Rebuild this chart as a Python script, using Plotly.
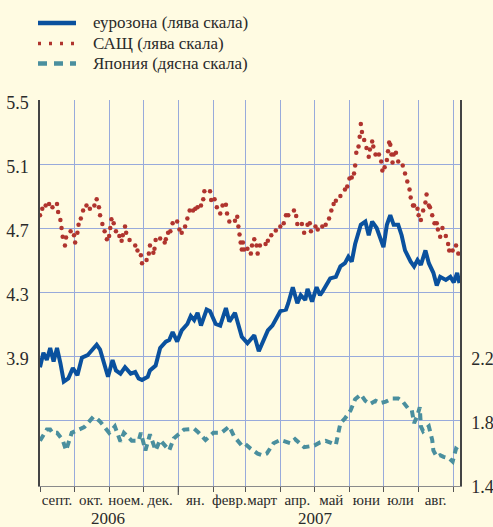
import pandas as pd
import plotly.graph_objects as go

START = pd.Timestamp("2006-09-01")

# ---- data (days after 2006-09-01, value) ----
euro_day = [0,3,6,9,12,15,18,21,25,29,33,37,42,46,50,53,56,60,64,67,71,75,80,84,87,90,95,97,102,106,
            111,114,117,121,125,130,133,136,139,142,147,150,155,159,164,167,172,175,178,183,189,193,197,201,205,209,212,217,219,223,
            227,230,234,236,240,244,247,249,253,256,261,265,269,272,275,278,283,287,290,293,297,300,303,306,309,312,316,319,322,327,
            330,333,336,340,343,347,350,353,358,362,365,368,370]
euro_val = [3.83,3.92,3.875,3.95,3.865,3.95,3.855,3.74,3.76,3.825,3.78,3.89,3.905,3.94,3.97,3.94,3.865,3.77,3.875,3.81,
            3.79,3.83,3.79,3.80,3.76,3.75,3.77,3.81,3.84,3.95,3.99,4.00,4.05,3.99,4.06,4.10,4.15,4.125,4.17,4.09,
            4.19,4.18,4.10,4.09,4.20,4.115,4.17,4.09,4.02,3.98,4.03,3.93,3.99,4.06,4.09,4.135,4.18,4.19,4.23,4.33,
            4.23,4.28,4.25,4.32,4.24,4.33,4.28,4.30,4.355,4.385,4.395,4.46,4.48,4.52,4.49,4.60,4.72,4.74,4.655,4.74,
            4.70,4.645,4.58,4.72,4.78,4.72,4.72,4.655,4.56,4.49,4.46,4.50,4.47,4.56,4.48,4.42,4.34,4.395,4.375,4.395,
            4.36,4.42,4.355]

us_day = [0,2,5,8,11,15,16,18,19,20,22,23,27,30,31,33,34,36,38,41,44,48,50,52,53,55,57,59,61,62,
          63,65,67,70,72,73,75,76,79,84,86,89,90,94,96,97,100,101,102,106,110,111,113,115,117,121,123,125,128,130,
          132,135,137,139,142,144,145,150,151,154,156,159,161,164,165,167,172,174,175,176,177,178,179,180,183,186,187,189,191,192,
          194,199,201,204,208,212,215,217,219,224,226,227,231,233,236,238,239,243,245,249,252,255,257,259,261,265,269,271,273,275,
          277,278,279,281,282,283,284,286,288,290,291,293,294,296,299,301,302,304,306,307,308,309,310,311,312,314,316,320,322,324,
          326,327,329,330,333,334,336,338,340,341,343,344,346,348,350,351,353,355,358,360,361,364,367,369]
us_val = [4.78,4.82,4.84,4.85,4.83,4.85,4.80,4.75,4.70,4.645,4.59,4.64,4.68,4.655,4.61,4.67,4.72,4.76,4.81,4.84,
          4.82,4.84,4.88,4.83,4.78,4.725,4.68,4.63,4.65,4.70,4.755,4.73,4.68,4.65,4.62,4.655,4.71,4.67,4.625,4.59,
          4.56,4.53,4.48,4.50,4.54,4.59,4.545,4.57,4.625,4.635,4.61,4.63,4.67,4.68,4.73,4.74,4.69,4.67,4.71,4.76,
          4.81,4.81,4.82,4.83,4.84,4.88,4.93,4.93,4.875,4.88,4.83,4.79,4.84,4.845,4.79,4.74,4.745,4.77,4.71,4.66,
          4.61,4.565,4.61,4.565,4.57,4.54,4.59,4.63,4.59,4.54,4.59,4.60,4.62,4.655,4.685,4.71,4.73,4.78,4.78,4.81,
          4.775,4.725,4.725,4.67,4.72,4.73,4.68,4.71,4.69,4.71,4.72,4.76,4.81,4.85,4.87,4.90,4.94,4.96,5.01,5.015,
          5.04,5.09,5.17,5.21,5.27,5.35,5.30,5.25,5.20,5.145,5.19,5.24,5.21,5.16,5.16,5.115,5.06,5.08,5.125,5.18,
          5.235,5.22,5.16,5.11,5.16,5.17,5.115,5.09,5.04,4.99,4.94,4.89,4.84,4.84,4.82,4.78,4.75,4.81,4.86,4.91,
          4.84,4.83,4.78,4.73,4.73,4.69,4.645,4.70,4.65,4.60,4.56,4.56,4.59,4.54]

jp_day = [0,6,9,11,15,17,20,23,28,31,39,47,50,53,61,66,71,74,81,87,89,93,97,102,106,114,118,127,136,140,
          146,153,160,167,171,178,181,186,192,196,200,206,212,221,225,233,242,247,252,261,265,269,274,278,283,287,291,296,300,305,
          311,316,320,325,328,330,333,335,336,338,343,346,347,350,353,356,361,364,367,369]
jp_val = [1.67,1.74,1.74,1.72,1.72,1.70,1.675,1.61,1.72,1.73,1.755,1.82,1.81,1.79,1.72,1.76,1.665,1.72,1.67,1.67,
          1.72,1.61,1.71,1.61,1.675,1.61,1.685,1.74,1.745,1.72,1.675,1.72,1.72,1.76,1.70,1.64,1.65,1.62,1.59,1.58,
          1.59,1.655,1.675,1.655,1.68,1.63,1.64,1.66,1.67,1.645,1.78,1.81,1.86,1.93,1.96,1.92,1.90,1.92,1.905,1.915,
          1.935,1.935,1.915,1.87,1.86,1.78,1.83,1.88,1.76,1.73,1.76,1.675,1.61,1.57,1.58,1.57,1.56,1.54,1.62,1.61]

series_names = ["еурозона (лява скала)", "САЩ (лява скала)", "Япония (дясна скала)"]
month_labels = ["септ.", "окт.", "ноем.", "дек.", "ян.", "февр.", "март", "апр.", "май", "юни", "юли", "авг."]
month_mid = ["2006-09-16", "2006-10-16", "2006-11-16", "2006-12-16", "2007-01-16", "2007-02-15",
             "2007-03-16", "2007-04-16", "2007-05-16", "2007-06-16", "2007-07-16", "2007-08-16"]
month_start = ["2006-09-01", "2006-10-01", "2006-11-01", "2006-12-01", "2007-01-01", "2007-02-01", "2007-03-01",
               "2007-04-01", "2007-05-01", "2007-06-01", "2007-07-01", "2007-08-01", "2007-09-01"]
year_labels = ["2006", "2007"]
year_mid = ["2006-10-31", "2007-05-02"]
left_ticks = [3.5, 3.9, 4.3, 4.7, 5.1, 5.5]
left_text = ["", "3.9", "4.3", "4.7", "5.1", "5.5"]
right_ticks = [1.4, 1.8, 2.2]

assert len(euro_day) == len(euro_val)
assert len(us_day) == len(us_val)
assert len(jp_day) == len(jp_val)

def to_dates(days):
    return [START + pd.Timedelta(days=d) for d in days]

BLUE = "#0a519e"
RED = "#b0342e"
TEAL = "#4a8f9e"
BG = "#fffbe2"
GRID = "#98aadb"
FONT = "'Liberation Serif', 'Times New Roman', Times, serif"
TXT = "#2a2a2a"

W, H = 493, 527
L, R, T, B = 40, 33, 100, 41
pw, ph = W - L - R, H - T - B

def px(x):
    return (x - L) / pw

def py(y):
    return (H - B - y) / ph

fig = go.Figure()
fig.add_trace(go.Scatter(x=to_dates(jp_day), y=jp_val, mode="lines", yaxis="y2",
                         line=dict(color=TEAL, width=4, dash="7px,5px"), name=series_names[2],
                         showlegend=False))
fig.add_trace(go.Scatter(x=to_dates(us_day), y=us_val, mode="markers",
                         marker=dict(color=RED, size=4.5, line=dict(width=0)), name=series_names[1],
                         showlegend=False))
fig.add_trace(go.Scatter(x=to_dates(euro_day), y=euro_val, mode="lines",
                         line=dict(color=BLUE, width=4), name=series_names[0], showlegend=False))

shapes = []
# Jan 1 longer tick
shapes.append(dict(type="line", xref="x", yref="paper", x0="2007-01-01", x1="2007-01-01",
                   y0=0, y1=-9 / ph, line=dict(color="#555", width=1.2)))
# manual legend
rows = [23, 43.5, 63.5]
styles = [dict(color=BLUE, width=4.5, dash="solid"),
          dict(color=RED, width=3.5, dash="3px,8px"),
          dict(color=TEAL, width=4.5, dash="9px,7px")]
annotations = []
for name, yy, st in zip(series_names, rows, styles):
    shapes.append(dict(type="line", xref="paper", yref="paper", x0=px(38), x1=px(76),
                       y0=py(yy), y1=py(yy), line=st))
    annotations.append(dict(text=name, xref="paper", yref="paper", x=px(91), y=py(yy),
                            xanchor="left", yanchor="middle", showarrow=False,
                            font=dict(family=FONT, size=17, color=TXT)))
for lab, xm in zip(year_labels, year_mid):
    annotations.append(dict(text=lab, xref="x", yref="paper", x=xm, y=py(518),
                            xanchor="center", yanchor="middle", showarrow=False,
                            font=dict(family=FONT, size=17, color=TXT)))

fig.update_layout(
    width=W, height=H, autosize=False,
    margin=dict(l=L, r=R, t=T, b=B, pad=0, autoexpand=False),
    paper_bgcolor=BG, plot_bgcolor=BG,
    showlegend=False,
    font=dict(family=FONT, color=TXT),
    shapes=shapes, annotations=annotations,
    xaxis=dict(
        type="date", range=["2006-09-01", "2007-09-06 12:00"], automargin=False,
        tickmode="array", tickvals=month_mid, ticktext=month_labels, tickangle=0,
        ticks="", showgrid=False, zeroline=False,
        showline=True, linecolor="#8a8a8a", linewidth=1,
        tickfont=dict(family=FONT, size=15, color=TXT), ticklabelstandoff=0,
        minor=dict(tickmode="array", tickvals=month_start, ticks="outside", ticklen=5,
                   tickcolor="#555", tickwidth=1.2, showgrid=True, gridcolor=GRID, gridwidth=1),
    ),
    yaxis=dict(
        range=[3.1 - 2 / 160, 5.5], automargin=False,
        tickmode="array", tickvals=left_ticks, ticktext=left_text,
        showgrid=True, gridcolor=GRID, gridwidth=1, zeroline=False, ticks="",
        showline=True, linecolor="#444", linewidth=1.5,
        tickfont=dict(family=FONT, size=18, color=TXT), ticklabelstandoff=6, ticklabelshift=3,
    ),
    yaxis2=dict(
        range=[1.4 - 2 / 160, 3.8], automargin=False,
        overlaying="y", side="right", tickmode="array",
        tickvals=right_ticks, ticktext=[str(v) for v in right_ticks],
        showgrid=False, zeroline=False, ticks="",
        showline=True, linecolor="#444", linewidth=1.5,
        tickfont=dict(family=FONT, size=18, color=TXT), ticklabelstandoff=6, ticklabelshift=3,
    ),
)

fig.write_html("out.html", config={"displayModeBar": False},
               post_script="document.body.style.margin='0px';document.body.style.overflow='hidden';")
